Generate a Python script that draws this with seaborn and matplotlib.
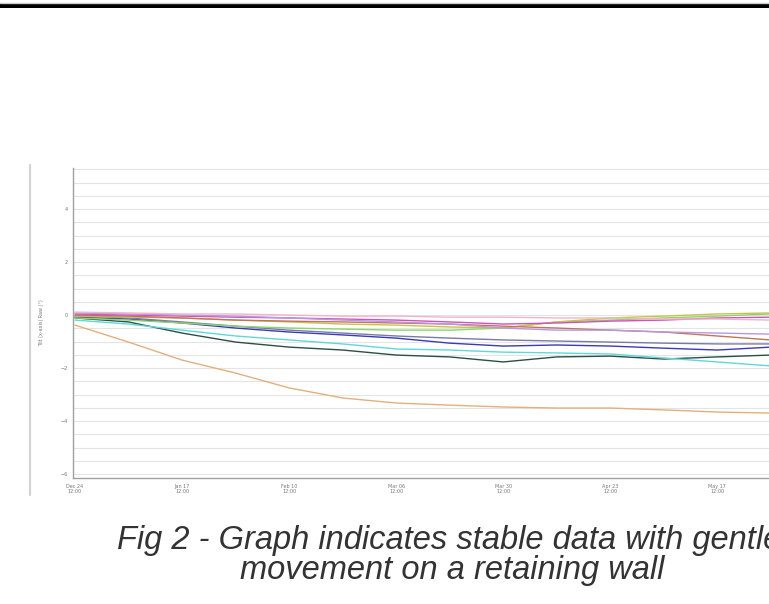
import numpy as np
import pandas as pd
import matplotlib
matplotlib.use("Agg")
import matplotlib.pyplot as plt
import matplotlib.dates as mdates
from matplotlib.lines import Line2D
from matplotlib.patches import Rectangle
import seaborn as sns

# sample dates (every 12 days from the first tick)
dates = pd.date_range("2013-12-24 12:00", periods=14, freq="12D")

# tilt readings per sensor (degrees)
tan_s = [-0.38, -1.02, -1.70, -2.19, -2.75, -3.13, -3.32, -3.40, -3.47, -3.51, -3.51, -3.58, -3.66, -3.70]
dark_s = [-0.11, -0.26, -0.68, -1.02, -1.21, -1.32, -1.51, -1.58, -1.77, -1.58, -1.55, -1.66, -1.58, -1.51]
cyan_s = [-0.19, -0.34, -0.57, -0.79, -0.94, -1.09, -1.28, -1.32, -1.40, -1.43, -1.47, -1.62, -1.77, -1.92]
blue_s = [-0.08, -0.15, -0.30, -0.49, -0.64, -0.75, -0.87, -1.06, -1.17, -1.13, -1.17, -1.25, -1.32, -1.21]
slate_s = [-0.04, -0.11, -0.26, -0.42, -0.57, -0.68, -0.79, -0.87, -0.94, -0.98, -1.02, -1.06, -1.09, -1.09]
green_s = [-0.11, -0.19, -0.30, -0.42, -0.49, -0.53, -0.57, -0.57, -0.49, -0.26, -0.19, -0.11, -0.04, 0.04]
olive_s = [-0.04, -0.08, -0.11, -0.19, -0.26, -0.34, -0.38, -0.45, -0.49, -0.26, -0.11, -0.04, 0.04, 0.08]
brown_s = [0.00, -0.04, -0.11, -0.19, -0.23, -0.26, -0.30, -0.34, -0.42, -0.49, -0.57, -0.64, -0.79, -0.94]
magenta_s = [0.04, 0.00, -0.04, -0.08, -0.11, -0.15, -0.19, -0.26, -0.34, -0.30, -0.23, -0.19, -0.11, -0.08]
lavender_s = [0.08, 0.04, 0.00, -0.04, -0.11, -0.19, -0.26, -0.34, -0.49, -0.57, -0.57, -0.64, -0.68, -0.72]
pink_s = [0.11, 0.08, 0.04, 0.04, 0.00, -0.04, -0.04, -0.08, -0.08, -0.11, -0.11, -0.15, -0.15, -0.19]

sensors = {
    "tan": tan_s, "dark": dark_s, "cyan": cyan_s, "blue": blue_s,
    "slate": slate_s, "green": green_s, "olive": olive_s, "brown": brown_s,
    "magenta": magenta_s, "lavender": lavender_s, "pink": pink_s,
}
colors = {
    "tan": "#e2b07c", "dark": "#2c4f45", "cyan": "#5fd8dc", "blue": "#3a3ab8",
    "slate": "#7a7aa8", "green": "#8ad66a", "olive": "#c9c24a", "brown": "#c07458",
    "magenta": "#d050c0", "lavender": "#b898e0", "pink": "#f2b4c8",
}

y_ticks = [4, 2, 0, -2, -4, -6]
tick_days = [0, 24, 48, 72, 96, 120, 144]

df = pd.concat(
    [pd.DataFrame({"date": dates, "tilt": v, "sensor": k}) for k, v in sensors.items()],
    ignore_index=True,
)

sns.set_style("white")
fig = plt.figure(figsize=(7.69, 6.04), dpi=100)

W, H = 769, 604
x0_px, top_px, bot_px = 73, 168, 478
start = dates[0] - pd.Timedelta(hours=11)
end = dates[0] + pd.Timedelta(days=175)
width_px = 175.45 * 4.46
ax = fig.add_axes([x0_px / W, 1 - bot_px / H, width_px / W, (bot_px - top_px) / H])

sns.lineplot(data=df, x="date", y="tilt", hue="sensor", palette=colors,
             legend=False, linewidth=1.0, ax=ax)

ax.set_xlim(start, end)
ax.set_ylim(-6.15, 5.55)
ax.set_yticks(y_ticks)
ax.set_yticks(np.arange(-6, 5.6, 0.5), minor=True)
ax.grid(which="both", axis="y", color="#e4e4e4", linewidth=0.8)
ax.set_axisbelow(True)

ticks = [dates[0] + pd.Timedelta(days=d) for d in tick_days]
ax.set_xticks(ticks)
ax.xaxis.set_major_formatter(mdates.DateFormatter("%b %d\n%H:%M"))
ax.tick_params(axis="both", labelsize=3.5, labelcolor="#777777", length=2,
               color="#aaaaaa", pad=2)
ax.tick_params(axis="y", which="minor", length=1.5, color="#bbbbbb")
ax.set_xlabel("")
ax.set_ylabel("Tilt (x-axis) Raw (°)", fontsize=3.5, color="#777777", labelpad=12)

for s in ["top", "right"]:
    ax.spines[s].set_visible(False)
for s in ["left", "bottom"]:
    ax.spines[s].set_color("#a0a0a0")
    ax.spines[s].set_linewidth(1.0)

# page decorations
fig.add_artist(Rectangle((0, 1 - 8 / H), 1, 5 / H, transform=fig.transFigure,
                         color="black", lw=0))
fig.add_artist(Line2D([0, 1], [1 - 2.5 / H] * 2, color="#cccccc", lw=1))
fig.add_artist(Line2D([30 / W] * 2, [1 - 165 / H, 1 - 495 / H], color="#d4d4d4", lw=1.6))

fig.text(117 / W, 1 - 541 / H, "Fig 2 - Graph indicates stable data with gentle",
         ha="left", va="center", fontsize=23.5, style="italic",
         family="Liberation Sans", color="#333333")
fig.text(452 / W, 1 - 571 / H, "movement on a retaining wall",
         ha="center", va="center", fontsize=23.5, style="italic",
         family="Liberation Sans", color="#333333")

fig.savefig("out.png", dpi=100)
